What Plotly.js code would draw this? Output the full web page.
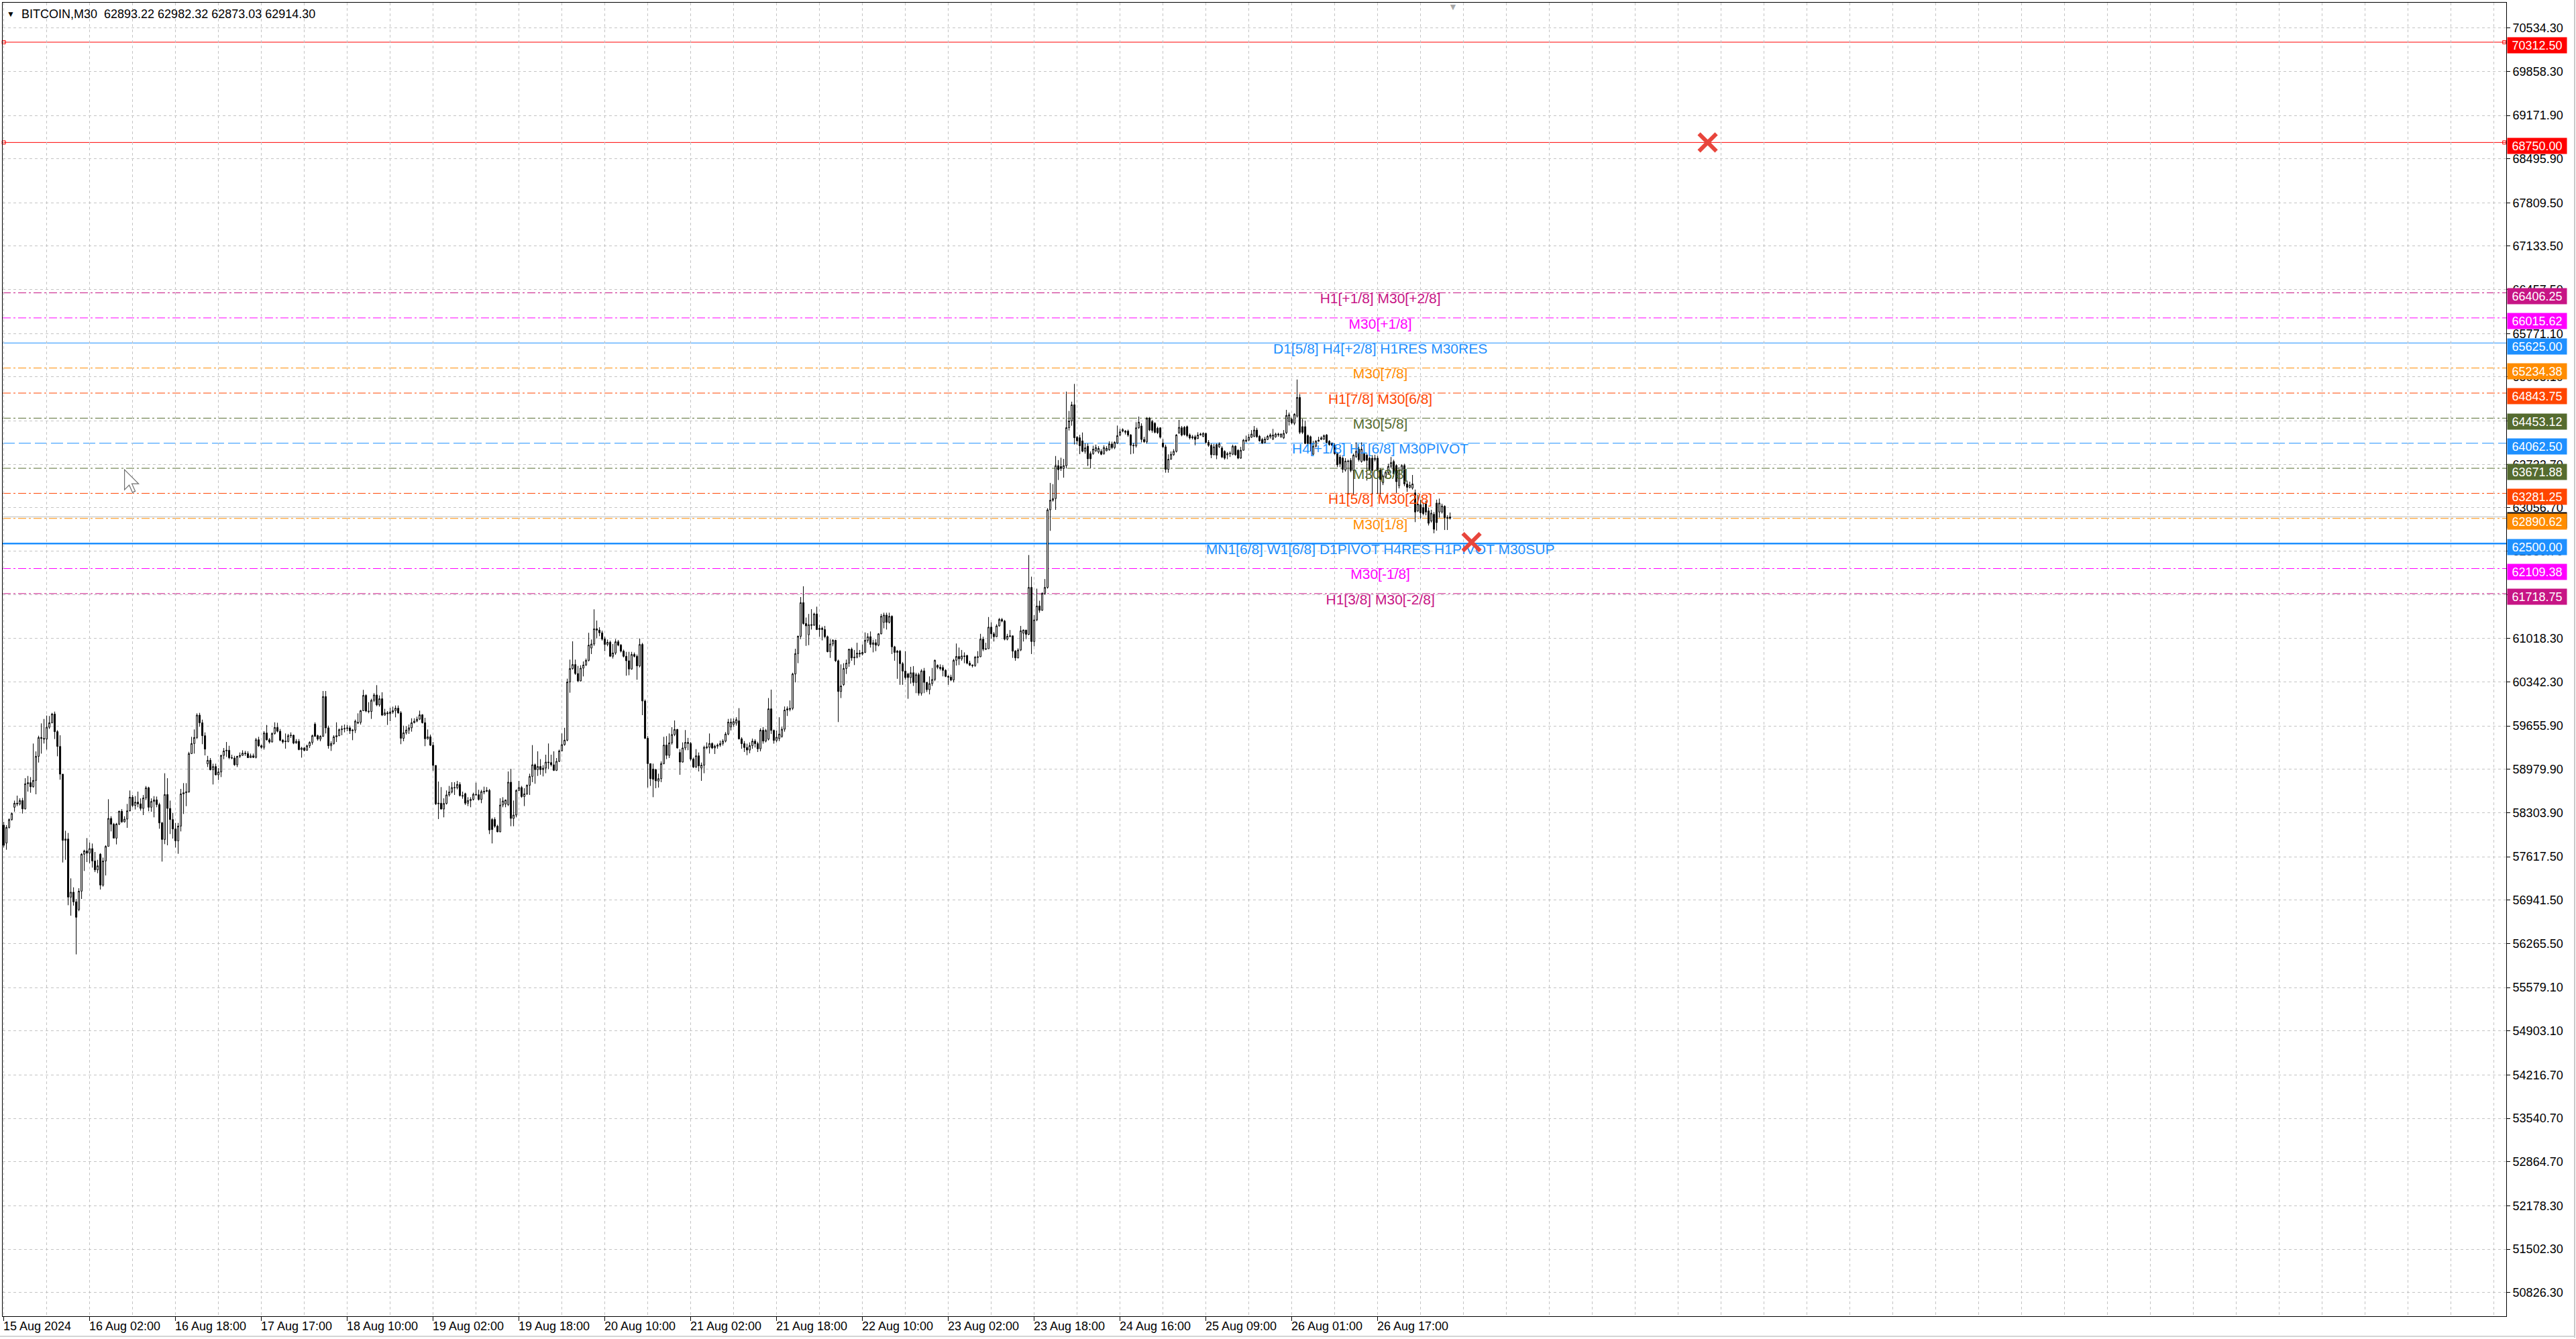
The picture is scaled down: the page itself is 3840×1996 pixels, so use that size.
<!DOCTYPE html>
<html><head><meta charset="utf-8">
<script src="https://cdn.plot.ly/plotly-3.0.1.min.js"></script>
<style>html,body{margin:0;padding:0;background:#fff}#chart{width:3840px;height:1996px}</style>
</head><body><div id="chart"></div>
<script>
const chartTitle = "BITCOIN,M30  62893.22 62982.32 62873.03 62914.30";

const openP = [
58110,57831,58075,58197,58389,58452,58441,58493,58364,58755,
58772,58709,58807,59183,59476,59462,59452,59636,59706,59842,
59567,59337,58905,57873,57894,56988,57065,56915,56793,57082,
57657,57709,57674,57744,57552,57413,57657,57176,57552,57779,
58215,58124,57908,58127,58326,58162,58204,58333,58546,58417,
58469,58441,58371,58535,58692,58389,58479,58504,58431,58145,
57887,58587,58371,58197,58051,57866,58096,58598,58615,58629,
59225,59382,59476,59825,59706,59504,59065,59121,58974,59023,
58894,58939,59197,59267,59277,59162,59156,59051,59183,59197,
59232,59225,59162,59190,59166,59441,59347,59323,59546,59441,
59406,59539,59633,59574,59434,59420,59413,59504,59511,59389,
59417,59288,59312,59277,59347,59399,59685,59504,59452,59494,
60114,59626,59347,59382,59487,59504,59598,59609,59616,59626,
59581,59591,59700,59713,59894,60132,59888,59881,60055,60139,
59985,60080,59825,59860,59846,59874,59895,59933,59860,59463,
59550,59592,59627,59707,59731,59762,59829,59707,59456,59487,
59355,59041,58442,58452,58361,58448,58581,58626,58696,58693,
58745,58571,58600,58452,58494,58511,58591,58584,58511,58626,
58637,58651,58198,58198,58093,58006,58424,58440,58430,58780,
58215,58267,58651,58696,58556,58598,58731,58870,59051,58975,
59024,58975,58999,59093,59086,59051,58964,59104,59267,59365,
59435,60341,60550,60613,60473,60358,60557,60606,60679,60870,
60933,61170,61149,61108,61010,60926,60961,60742,60794,60968,
60916,60822,60742,60672,60543,60770,60742,60592,60926,60045,
59463,59069,58985,58975,58797,58835,59069,59358,59198,59393,
59522,59602,59243,59093,59313,59400,59383,59139,59017,59191,
59000,59045,59316,59323,59383,59313,59341,59358,59383,59420,
59530,59642,59680,59700,59736,59455,59380,59320,59280,59350,
59420,59380,59300,59590,59420,59450,59923,59586,59430,59460,
59492,59605,59904,59915,59930,60466,60784,61054,61578,61253,
61077,61234,61226,61402,61159,61178,61159,61047,60814,60934,
60990,60672,60193,60300,60552,60634,60852,60717,60728,60792,
60777,60803,60990,61047,60927,60953,60915,61092,61271,61384,
61271,61365,60889,60803,60822,60627,60511,60466,60410,60485,
60335,60455,60167,60515,60335,60222,60316,60380,60600,60570,
60567,60522,60429,60417,60372,60679,60739,60702,60747,60754,
60634,60605,60597,60722,60735,61009,60852,60859,61196,61092,
61047,61215,61316,61290,61009,61050,61060,60822,60717,60840,
61102,61151,61084,61815,60972,61309,61526,61459,61721,61815,
63024,63174,63200,63713,63700,63669,63713,64305,64410,64661,
64155,64148,64099,63938,64016,63900,63900,63946,63925,63935,
63900,63946,63960,64051,63995,64065,64191,64250,64233,64251,
64191,64030,64023,64303,64331,64121,64086,64450,64400,64373,
64296,64303,64065,64006,63655,63813,63883,63935,64226,64303,
64310,64321,64191,64146,64163,64135,64191,64170,64216,64076,
64030,63883,64040,64006,63988,63935,63880,63900,63890,64016,
63953,63830,63953,64093,64111,64156,64170,64268,64170,64121,
64076,64121,64163,64128,64163,64205,64163,64146,64226,64401,
64436,64373,64485,64776,64321,64321,64181,64163,63890,64016,
64093,64121,64128,64191,64093,64058,64030,63900,63848,63830,
63645,63785,63795,63638,63855,63970,63778,63900,63876,63830,
63830,63806,63830,63645,63445,63533,63603,63701,63778,63715,
63400,63638,63715,63428,63375,63365,63288,63008,63106,63060,
63120,63008,62850,62955,63130,62990,62990,63078,62903,62893.22];

const highP = [
58162,58110,58215,58310,58493,58570,58528,58535,58842,58877,
58859,59382,59260,59504,59696,59765,59818,59811,59860,59880,
59591,59511,58905,58023,57988,57281,57141,56960,57127,57674,
57727,57908,57838,57824,57692,57570,57674,57605,57796,58514,
58249,58145,58145,58337,58361,58249,58441,58650,58580,58563,
58633,58528,58580,58720,58709,58528,58563,58556,58459,58162,
58919,58842,58493,58302,58145,58145,58675,58765,58765,59253,
59487,59602,59853,59860,59755,59556,59190,59156,59068,59068,
58999,59208,59312,59406,59347,59208,59190,59190,59243,59277,
59267,59260,59225,59225,59469,59487,59365,59574,59671,59469,
59556,59713,59706,59609,59452,59539,59532,59556,59521,59452,
59452,59330,59330,59365,59417,59521,59713,59521,59511,60201,
60201,59661,59417,59511,59713,59616,59661,59678,59671,59661,
59609,59755,59853,59905,60219,60149,60027,60080,60167,60292,
60132,60181,59923,59888,59940,59957,59975,59975,59888,59661,
59651,59679,59776,59776,59801,59895,59840,59783,59602,59522,
59407,59041,58790,58703,58529,58651,58721,58780,58780,58800,
58780,58633,58616,58546,58546,58616,58773,58661,58661,58710,
58703,58675,58222,58232,58117,58529,58546,58511,58947,58989,
58494,58668,58800,58721,58686,58745,58912,59358,59069,59261,
59139,59045,59208,59383,59208,59261,59156,59288,59539,59627,
60393,60690,60975,60690,60592,60602,60662,60707,61108,61003,
61474,61299,61195,61142,61045,61003,60986,60933,61010,60996,
60933,60846,60811,60811,60811,60801,60770,61020,60951,60069,
59498,59069,59069,58989,58912,59104,59487,59498,59539,59637,
59742,59609,59295,59400,59592,59470,59407,59163,59295,59243,
59086,59348,59400,59539,59400,59365,59383,59428,59450,59560,
59766,59773,59773,59792,59934,59480,59420,59380,59400,59460,
59450,59410,59620,59640,59610,60091,60222,59600,59586,59792,
59642,59960,59960,60054,60485,60859,61065,61665,61833,61346,
61402,61477,61421,61515,61234,61204,61215,61065,61009,61009,
61001,60691,60616,60634,60691,60859,60878,60840,60953,60840,
60927,61114,61102,61129,61001,61009,61102,61402,61421,61421,
61421,61380,60904,60840,60840,60653,60822,60485,60578,60589,
60485,60485,60541,60560,60335,60429,60560,60691,60616,60616,
60605,60541,60447,60455,60702,60941,60878,60840,60803,60765,
60672,60616,60747,60822,61092,61047,60953,61354,61271,61121,
61241,61339,61339,61309,61092,61151,61065,60840,60867,61215,
61159,61151,62320,61983,61384,61796,61608,61740,61946,63051,
63444,63425,63863,63800,63837,63818,64867,64566,64710,64987,
64174,64193,64230,64060,64058,63935,64023,64040,64016,63970,
64030,64016,64093,64086,64093,64338,64286,64296,64268,64275,
64205,64065,64391,64478,64373,64163,64471,64471,64426,64391,
64321,64310,64128,64040,63890,63935,63970,64205,64426,64331,
64331,64338,64216,64191,64191,64233,64226,64233,64220,64111,
64058,64051,64058,64076,64016,63953,63925,63935,64040,64030,
63970,64006,64128,64181,64205,64268,64331,64303,64191,64146,
64163,64191,64216,64286,64226,64226,64216,64268,64583,64541,
64461,64531,65056,64828,64443,64415,64198,64181,64100,64111,
64163,64170,64198,64205,64111,64076,64058,63925,63883,63855,
63830,63806,63830,63900,64076,64006,64076,63925,63900,63855,
63876,63883,63866,63673,63575,63638,63743,63848,63806,63736,
63690,63736,63743,63480,63463,63568,63340,63260,63183,63130,
63165,63060,63025,62990,63183,63200,63120,63095,62940,62982.32];

const lowP = [
57762,57727,58058,58180,58319,58406,58417,58291,58354,58633,
58615,58695,58591,59086,59225,59382,59288,59609,59696,59452,
59183,58818,57528,57570,56862,56699,56856,56096,56768,56960,
57396,57535,57517,57448,57378,57361,57106,57152,57326,57779,
58012,57901,57810,58110,58145,58150,58068,58326,58389,58354,
58389,58337,58267,58500,58326,58319,58232,58389,58054,57542,
57814,57796,57971,57901,57762,57664,58012,58284,58406,58615,
59218,59225,59452,59643,59372,59197,59016,58964,58744,58884,
58814,58859,59138,59173,59138,59138,59034,59016,59156,59190,
59190,59156,59156,59156,59150,59330,59302,59288,59427,59382,
59399,59521,59556,59417,59382,59302,59400,59469,59372,59382,
59277,59162,59260,59270,59312,59365,59487,59427,59417,59487,
59539,59302,59267,59365,59406,59497,59511,59556,59574,59532,
59434,59546,59685,59678,59888,59870,59853,59766,60027,59964,
59957,59811,59818,59672,59731,59846,59790,59846,59372,59417,
59522,59532,59567,59696,59714,59748,59693,59341,59442,59344,
58954,58424,58205,58354,58232,58431,58556,58605,58581,58668,
58556,58522,58424,58407,58389,58494,58564,58494,58452,58591,
58626,57971,57825,58069,57999,58000,58389,58389,58407,58093,
58093,58232,58640,58536,58407,58581,58581,58780,58755,58877,
58895,58870,58919,58982,59024,58954,58954,59093,59261,59348,
59417,60174,60533,60452,60341,60348,60428,60592,60662,60777,
60905,61020,61055,60986,60822,60898,60731,60707,60766,60898,
60801,60724,60439,60446,60533,60724,60376,60568,59825,59452,
58696,58721,58546,58686,58696,58780,59058,59139,59156,59365,
59498,59302,58895,59086,59278,59278,59114,59000,59000,58947,
58800,58919,59295,59226,59295,59219,59302,59330,59350,59400,
59511,59586,59642,59661,59444,59300,59250,59200,59230,59300,
59320,59250,59260,59380,59400,59430,59530,59380,59400,59420,
59473,59567,59811,59885,59904,60335,60634,61009,61234,60904,
60915,61159,61215,61151,61047,60990,61028,60803,60717,60897,
60653,59717,60091,60280,60466,60578,60672,60605,60709,60728,
60754,60792,60953,60878,60803,60822,60897,61084,61178,61159,
61253,60777,60672,60391,60297,60297,60380,60080,60316,60279,
60167,60129,60129,60167,60185,60148,60279,60354,60541,60522,
60429,60417,60297,60354,60335,60597,60605,60672,60634,60616,
60589,60567,60578,60634,60728,60822,60840,60859,61017,60972,
61040,61204,61271,60990,60990,61039,60717,60672,60709,60822,
60972,61009,61070,60777,60897,61290,61421,61451,61702,61796,
62697,63152,63024,63489,63631,63526,63669,64260,64335,64043,
64043,63893,63923,63900,63708,63673,63883,63925,63900,63876,
63883,63935,63946,63970,63970,64051,64170,64233,64198,64163,
63890,63900,63995,64286,64076,64065,64058,64251,64226,64216,
64205,64135,63988,63603,63603,63806,63866,63918,64205,64170,
64181,64156,64121,64121,64030,64128,64181,64156,64058,64006,
63830,63876,63813,63988,63830,63806,63813,63848,63876,63866,
63813,63820,63946,64076,64093,64146,64156,64146,64086,64051,
64058,64111,64135,64111,64146,64163,64146,64128,64205,64338,
64356,64345,64461,64205,64205,64051,64016,63935,63876,63995,
64086,64111,64111,64058,64023,64016,63883,63690,63690,63603,
63620,63253,63610,63253,63830,63778,63760,63778,63480,63638,
63253,63778,63270,63253,63410,63515,63585,63673,63533,63288,
63358,63603,63393,63305,63358,63340,62833,62990,62885,62938,
62938,62780,62826,62658,62700,62903,62966,62710,62710,62873.03];

const closeP = [
57796,58075,58197,58291,58452,58441,58493,58364,58755,58772,
58709,58807,59183,59476,59462,59452,59636,59706,59842,59567,
59337,58905,57873,57894,56988,57065,56915,56674,57082,57657,
57709,57674,57744,57552,57413,57476,57176,57552,57779,58215,
58124,57908,58127,58326,58162,58204,58333,58546,58417,58469,
58441,58371,58535,58692,58389,58479,58504,58431,58145,57887,
58587,58371,58197,58051,57866,58096,58598,58615,58629,59225,
59382,59476,59825,59706,59504,59295,59121,58974,59023,58894,
58939,59197,59267,59277,59162,59156,59051,59183,59197,59232,
59225,59162,59190,59166,59441,59347,59323,59546,59441,59406,
59539,59633,59574,59434,59406,59413,59504,59511,59389,59417,
59288,59312,59277,59347,59399,59504,59494,59452,59494,60114,
59626,59347,59382,59487,59504,59598,59609,59616,59626,59581,
59591,59731,59713,59894,60132,59888,59881,60055,60139,59985,
60080,59825,59860,59846,59874,59895,59933,59860,59463,59550,
59592,59627,59707,59731,59762,59829,59707,59456,59487,59355,
59041,58442,58452,58361,58448,58581,58626,58696,58693,58745,
58571,58564,58452,58494,58511,58591,58584,58511,58633,58637,
58651,58034,58041,58093,58006,58424,58487,58501,58780,58215,
58267,58651,58696,58556,58598,58731,58870,59051,58975,59024,
58975,58999,59093,59086,59051,58964,59104,59267,59365,59435,
60341,60550,60613,60473,60358,60557,60606,60679,60916,60933,
61170,61149,61108,61010,60926,60961,60742,60794,60968,60916,
60822,60742,60672,60543,60770,60742,60592,60926,60045,59463,
59069,58835,58825,58800,58835,59069,59358,59198,59393,59522,
59602,59313,59093,59313,59400,59383,59139,59017,59191,59034,
59045,59323,59330,59383,59313,59341,59358,59383,59420,59530,
59717,59717,59724,59754,59455,59380,59320,59280,59350,59420,
59380,59300,59590,59420,59586,59923,59586,59430,59480,59530,
59605,59904,59923,59930,60466,60784,61054,61578,61253,61215,
61234,61226,61402,61159,61178,61159,61047,60814,60934,60990,
60672,60193,60279,60552,60634,60852,60717,60728,60792,60777,
60803,60990,61047,60927,60953,60915,61092,61365,61384,61271,
61365,60889,60803,60822,60627,60511,60410,60410,60485,60335,
60455,60167,60515,60335,60222,60316,60380,60679,60570,60552,
60522,60429,60417,60372,60679,60739,60702,60747,60739,60634,
60605,60597,60728,60735,61009,60852,60859,61196,61092,61047,
61215,61316,61290,61009,61054,61060,60822,60717,60840,61140,
61151,61084,61815,60972,61309,61526,61459,61721,61815,63024,
63174,63200,63713,63650,63669,63713,64305,64410,64661,64148,
64099,64024,63938,63990,63820,63820,63970,63995,63981,63890,
63995,63981,64051,63995,64076,64181,64240,64275,64251,64191,
64030,64023,64303,64391,64121,64086,64450,64268,64261,64233,
64226,64156,64006,63655,63813,63890,63935,64191,64310,64191,
64198,64181,64146,64163,64121,64191,64205,64216,64076,64030,
63883,64006,63876,64051,63848,63830,63900,63907,64016,63883,
63830,63953,64111,64111,64156,64205,64268,64163,64100,64065,
64128,64170,64191,64191,64205,64195,64205,64216,64496,64506,
64380,64513,64776,64233,64233,64058,64058,64051,64016,64093,
64111,64146,64181,64076,64040,64030,63900,63725,63743,63655,
63785,63778,63638,63876,63935,63806,63970,63795,63795,63655,
63638,63830,63631,63498,63550,63610,63701,63760,63585,63463,
63645,63715,63428,63375,63410,63428,62990,63113,62980,62966,
62990,62815,62973,62721,62826,63130,63085,62903,62893,62914.30];

const timeLabelBars = [0,32,64,96,128,160,192,224,256,288,320,352,384,416,448,480,512];
const timeLabels = ["15 Aug 2024","16 Aug 02:00","16 Aug 18:00","17 Aug 17:00","18 Aug 10:00","19 Aug 02:00","19 Aug 18:00","20 Aug 10:00","21 Aug 02:00","21 Aug 18:00","22 Aug 10:00","23 Aug 02:00","23 Aug 18:00","24 Aug 16:00","25 Aug 09:00","26 Aug 01:00","26 Aug 17:00"];

const priceTicks = [70534.30,69858.30,69171.90,68495.90,67809.50,67133.50,66457.50,65771.10,65095.10,64408.70,63732.70,63056.70,62380.70,61704.30,61018.30,60342.30,59655.90,58979.90,58303.90,57617.50,56941.50,56265.50,55579.10,54903.10,54216.70,53540.70,52864.70,52178.30,51502.30,50826.30];

const levelPrices = [70312.50,68750.00,66406.25,66015.62,65625.00,65234.38,64843.75,64453.12,64062.50,63671.88,63281.25,62890.62,62500.00,62109.38,61718.75];
const levelColors = ['#FF0000','#FF0000','#C71585','#FF00FF','#1E90FF','#FF8C00','#FF4500','#556B2F','#1E90FF','#556B2F','#FF4500','#FF8C00','#1E90FF','#FF00FF','#C71585'];
const levelNames = ['','','H1[+1/8] M30[+2/8]','M30[+1/8]','D1[5/8] H4[+2/8] H1RES M30RES','M30[7/8]','H1[7/8] M30[6/8]','M30[5/8]','H4[+1/8] H1[6/8] M30PIVOT','M30[3/8]','H1[5/8] M30[2/8]','M30[1/8]','MN1[6/8] W1[6/8] D1PIVOT H4RES H1PIVOT M30SUP','M30[-1/8]','H1[3/8] M30[-2/8]'];
const levelStyles = ['solid','solid','dashdot','dashdot','solid','dashdot','dashdot','dashdot','dash','dashdot','dashdot','dashdot','thick','dashdot','dashdot'];

const bidPrice = 62914.30;
const crossBars = [635, 547];
const crossPrices = [68750, 62520];
const cursorBar = 45, cursorPrice = 63650;
const shiftMarkBar = 540;

const FONT = '"Liberation Sans", Arial, sans-serif';
const X_MIN = -0.4, X_MAX = 932.6, Y_MIN = 50457, Y_MAX = 70928.5;
const LABEL_BAR = 513;
const GRID = '#C4C4C4';

const bars = openP.map((_, i) => i);

function dashFor(s){
  if (s === 'dashdot') return '12px,4px,3px,4px';
  if (s === 'dash') return '18px,6px';
  return 'solid';
}
function widthFor(s){ return s === 'thick' ? 2.5 : 1; }

const named = levelNames.map((n,i)=>({n, p: levelPrices[i], c: levelColors[i]})).filter(o=>o.n);

const textTrace = {
  type:'scatter', mode:'text', x: named.map(()=>LABEL_BAR), y: named.map(o=>o.p),
  text: named.map(o=>o.n), textposition:'bottom center',
  textfont:{family:FONT, size:21, color: named.map(o=>o.c)},
  hoverinfo:'skip', cliponaxis:false
};

const candles = {
  type:'candlestick', x: bars, open: openP, high: highP, low: lowP, close: closeP,
  increasing:{line:{color:'#000000', width:1}, fillcolor:'#FFFFFF'},
  decreasing:{line:{color:'#000000', width:1}, fillcolor:'#000000'},
  whiskerwidth:0, hoverinfo:'skip'
};

const crosses = {
  type:'scatter', mode:'markers', x: crossBars, y: crossPrices,
  marker:{symbol:'x-thin', size:26, line:{width:6, color:'#E8453C'}},
  hoverinfo:'skip'
};

const redEnds = {
  type:'scatter', mode:'markers',
  x: [X_MAX-0.7, X_MAX-0.7, X_MIN+0.4, X_MIN+0.4],
  y: [levelPrices[0], levelPrices[1], levelPrices[0], levelPrices[1]],
  marker:{symbol:'square-open', size:5, line:{width:1, color:'#FF0000'}, color:'#FF0000'},
  hoverinfo:'skip', cliponaxis:false
};

const shapes = levelPrices.map((p,i)=>({
  type:'line', xref:'paper', x0:0, x1:1, yref:'y', y0:p, y1:p, layer:'between',
  line:{color: levelColors[i], width: widthFor(levelStyles[i]), dash: dashFor(levelStyles[i])}
}));
shapes.unshift({type:'line', xref:'paper', x0:0, x1:1, yref:'y', y0:bidPrice, y1:bidPrice, layer:'between',
  line:{color:'#BDBDBD', width:1}});
// mouse cursor arrow
shapes.push({type:'path', xref:'x', yref:'y', xsizemode:'pixel', ysizemode:'pixel',
  xanchor: cursorBar, yanchor: cursorPrice,
  path:'M0,0 L0,-30 L7,-23 L12,-34 L16,-32 L11,-21 L21,-21 Z',
  fillcolor:'#FFFFFF', line:{color:'#6E6E6E', width:1.2}, layer:'above'});
// outer window frame
shapes.push({type:'line', xref:'paper', yref:'paper', x0:(3838-4)/3732, x1:(3838-4)/3732, y0:-32/1958, y1:1+4/1958,
  line:{color:'#C8C8C8', width:2}});
shapes.push({type:'line', xref:'paper', yref:'paper', x0:-4/3732, x1:(3839-4)/3732, y0:-30/1958, y1:-30/1958,
  line:{color:'#D4D4D4', width:2}});

const annotations = [];
annotations.push({xref:'paper', yref:'paper', x:0, y:1, xanchor:'left', yanchor:'top', xshift:4, yshift:-8,
  text:'▼', showarrow:false, font:{family:FONT, size:12, color:'#000'}});
annotations.push({xref:'paper', yref:'paper', x:0, y:1, xanchor:'left', yanchor:'top', xshift:26, yshift:-5,
  text: chartTitle.replace(/ /g,'&nbsp;'), showarrow:false, font:{family:FONT, size:18, color:'#000'}});
annotations.push({xref:'x', yref:'paper', x:shiftMarkBar, y:1, xanchor:'center', yanchor:'top', yshift:4,
  text:'▼', showarrow:false, font:{family:FONT, size:14, color:'#A8A8A8'}});
timeLabelBars.forEach((b,i)=>annotations.push({xref:'x', yref:'paper', x:b, y:0, xanchor:'left', yanchor:'top',
  xshift:-3, yshift:-3, text: timeLabels[i], showarrow:false, font:{family:FONT, size:18, color:'#000'}}));
function tag(p, bg){
  return {xref:'paper', yref:'y', x:1, y:p, xanchor:'left', yanchor:'middle', xshift:1, yshift:-5,
    text: p.toFixed(2), showarrow:false, bgcolor:bg, borderpad:2, width:84, height:19, align:'center',
    font:{family:FONT, size:18, color:'#FFFFFF'}};
}
annotations.push(tag(bidPrice, '#000000'));
levelPrices.forEach((p,i)=>annotations.push(tag(p, levelColors[i])));

const layout = {
  width:3840, height:1996,
  margin:{l:4, r:104, t:4, b:34, pad:0},
  paper_bgcolor:'#FFFFFF', plot_bgcolor:'#FFFFFF',
  showlegend:false, dragmode:false,
  font:{family:FONT, size:18, color:'#000'},
  xaxis:{
    range:[X_MIN, X_MAX], tickmode:'array', tickvals: timeLabelBars, showticklabels:false,
    ticks:'outside', ticklen:6, tickcolor:'#000', tickwidth:1,
    showgrid:true, gridcolor:GRID, griddash:'4px,4px', gridwidth:1,
    minor:{tickmode:'linear', tick0:0, dtick:16, showgrid:true, gridcolor:GRID, griddash:'4px,4px', ticks:''},
    showline:true, mirror:true, linecolor:'#000', linewidth:1, zeroline:false,
    rangeslider:{visible:false}, fixedrange:true
  },
  yaxis:{
    side:'right', range:[Y_MIN, Y_MAX], tickmode:'array', tickvals: priceTicks,
    ticktext: priceTicks.map(v=>v.toFixed(2)),
    ticks:'outside', ticklen:5, tickcolor:'#000', tickwidth:1,
    showgrid:true, gridcolor:GRID, griddash:'4px,4px', gridwidth:1,
    showline:true, mirror:true, linecolor:'#000', linewidth:1, zeroline:false,
    tickfont:{family:FONT, size:18, color:'#000'}, fixedrange:true
  },
  shapes, annotations
};

Plotly.newPlot('chart', [textTrace, candles, crosses, redEnds], layout, {staticPlot:true, displayModeBar:false});
</script></body></html>
